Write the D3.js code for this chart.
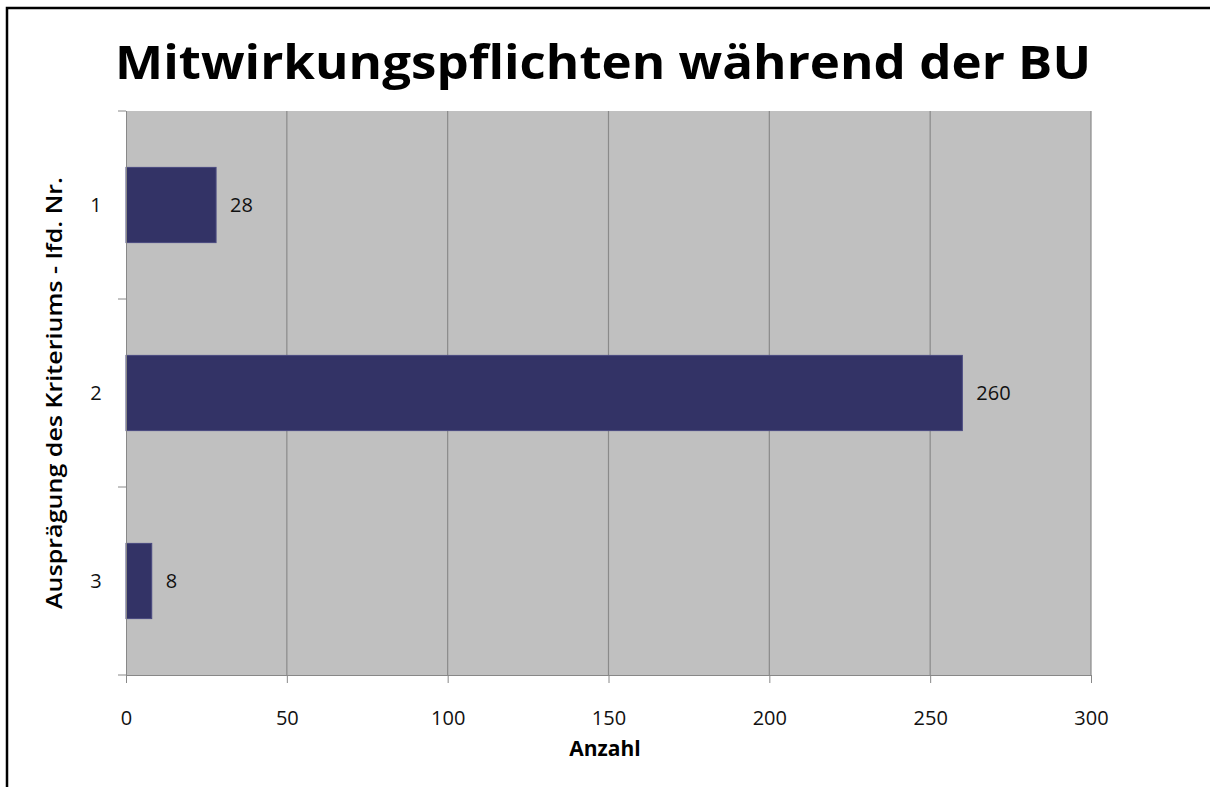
<!DOCTYPE html>
<html>
<head>
<meta charset="utf-8">
<script src="https://cdn.jsdelivr.net/npm/d3@7"></script>
<style>
  body { margin: 0; background: #fff; }
  text { font-family: "Open Sans", "DejaVu Sans", sans-serif; }
</style>
</head>
<body>
<div id="chart"></div>
<script>
// Chart data
const categories = ["1", "2", "3"];
const values = [28, 260, 8];
const xTicks = [0, 50, 100, 150, 200, 250, 300];

const titleText = "Mitwirkungspflichten während der BU";
const xTitle = "Anzahl";
const yTitle = "Ausprägung des Kriteriums - lfd. Nr.";

// Dimensions
const W = 1210, H = 787;
const margin = { top: 111, right: 119, bottom: 112, left: 126 };
const width = W - margin.left - margin.right;
const height = H - margin.top - margin.bottom;

const svg = d3.select("#chart")
    .append("svg")
    .attr("width", W)
    .attr("height", H);

// Outer frame (only top and left visible in the crop)
svg.append("path")
    .attr("d", "M7,787 V8 H1210")
    .attr("fill", "none")
    .attr("stroke", "#000")
    .attr("stroke-width", 2.5);

// Title
svg.append("text")
    .attr("x", 603)
    .attr("y", 79)
    .attr("text-anchor", "middle")
    .attr("font-size", 47)
    .attr("font-weight", "bold")
    .attr("textLength", 976)
    .attr("lengthAdjust", "spacingAndGlyphs")
    .text(titleText);

const g = svg.append("g")
    .attr("transform", "translate(" + margin.left + "," + margin.top + ")");

// Scales
const x = d3.scaleLinear()
    .domain([0, 300])
    .range([0, width]);

const y = d3.scaleBand()
    .domain(categories)
    .range([0, height])
    .paddingInner(0.6)
    .paddingOuter(0.3);

// Plot background
g.append("rect")
    .attr("width", width)
    .attr("height", height)
    .attr("fill", "#c0c0c0");

// Vertical gridlines
g.selectAll(".grid")
    .data(xTicks.slice(1))
    .enter().append("line")
    .attr("x1", d => x(d))
    .attr("x2", d => x(d))
    .attr("y1", 0)
    .attr("y2", height)
    .attr("stroke", "#8a8a8a")
    .attr("stroke-width", 1.2);

// Bars
g.selectAll(".bar")
    .data(values)
    .enter().append("rect")
    .attr("x", 0)
    .attr("y", (d, i) => y(categories[i]))
    .attr("width", d => x(d))
    .attr("height", y.bandwidth())
    .attr("fill", "#333366")
    .attr("stroke", "#4a4a80")
    .attr("stroke-width", 1);

// Value labels
g.selectAll(".val")
    .data(values)
    .enter().append("text")
    .attr("x", d => x(d) + 14)
    .attr("y", (d, i) => y(categories[i]) + y.bandwidth() / 2)
    .attr("dy", "0.35em")
    .attr("font-size", 20)
    .attr("fill", "#111")
    .text(d => d);

// X axis
const xAxis = g.append("g")
    .attr("transform", "translate(0," + height + ")")
    .call(d3.axisBottom(x).tickValues(xTicks).tickSize(8).tickPadding(28));
xAxis.selectAll("text").attr("font-size", 20).attr("fill", "#111")
    .style("font-family", "'Open Sans', 'DejaVu Sans', sans-serif");
xAxis.selectAll("line").attr("stroke", "#888");
xAxis.select(".domain").attr("stroke", "#888").attr("d", "M0,0.5H" + width);

// Y axis: ticks at category boundaries, labels centered on bands
const step = height / categories.length;
const yAxis = g.append("g");
yAxis.append("line")
    .attr("x1", 0.5).attr("x2", 0.5)
    .attr("y1", 0).attr("y2", height)
    .attr("stroke", "#888");
yAxis.selectAll(".ytick")
    .data(d3.range(categories.length + 1))
    .enter().append("line")
    .attr("x1", -8).attr("x2", 0)
    .attr("y1", i => i * step)
    .attr("y2", i => i * step)
    .attr("stroke", "#888");
yAxis.selectAll(".ylab")
    .data(categories)
    .enter().append("text")
    .attr("x", -30)
    .attr("y", d => y(d) + y.bandwidth() / 2)
    .attr("dy", "0.35em")
    .attr("text-anchor", "middle")
    .attr("font-size", 20)
    .attr("fill", "#111")
    .text(d => d);

// Axis titles
svg.append("text")
    .attr("x", 605)
    .attr("y", 756)
    .attr("text-anchor", "middle")
    .attr("font-size", 21)
    .attr("font-weight", "bold")
    .text(xTitle);

svg.append("text")
    .attr("transform", "translate(62," + 393 + ") rotate(-90)")
    .attr("text-anchor", "middle")
    .attr("font-size", 21)
    .attr("font-weight", "600")
    .attr("textLength", 432)
    .attr("lengthAdjust", "spacingAndGlyphs")
    .text(yTitle);
</script>
</body>
</html>
